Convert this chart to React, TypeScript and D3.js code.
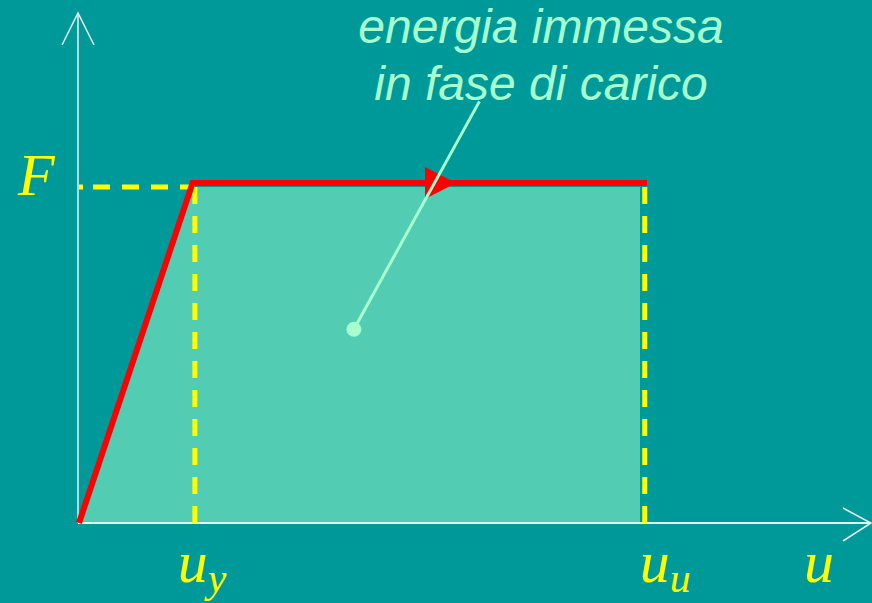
import React from "react";
import * as d3 from "d3";

const uPoints = [0, 20.0, 100];
const fPoints = [0, 1, 1];
const uMarks = [
  { key: "uy", value: 20.4, main: "u", sub: "y" },
  { key: "uu", value: 99.6, main: "u", sub: "u" },
];
const fMark = 1;
const labelLines = ["energia immessa", "in fase di carico"];
const pointer = { from: [48.4, 0.57], to: [70.5, 1.24] };

const W = 872;
const H = 603;
const labelDx: Record<string, number> = { uy: -17, uu: -5 };

export default function App() {
  const x = d3.scaleLinear().domain([0, 100]).range([79, 647]);
  const y = d3.scaleLinear().domain([0, 1]).range([523, 183]);

  const areaPts: [number, number][] = [
    [x(0), y(0)],
    [x(uPoints[1]), y(1) + 4],
    [x(uPoints[2]) - 7, y(1) + 4],
    [x(uPoints[2]) - 7, y(0)],
  ];
  const line = d3.line<number>().x((d, i) => x(uPoints[i])).y((d) => y(d));
  const redPath = line(fPoints) as string;
  const arrowX = 456;
  const arrowY = y(1);

  const yellow = "#FFFF00";
  const axisCol = "#E6F5F2";
  const textCol = "#A6FFCC";

  return (
    <div style={{ position: "fixed", left: 0, top: 0, width: W, height: H }}>
      <svg width={W} height={H} style={{ display: "block" }}>
        <rect width={W} height={H} fill="#009999" />
        <polygon points={areaPts.map((p) => p.join(",")).join(" ")} fill="#52CCB3" />
        {/* axes */}
        <line x1={x(0) - 1} y1={y(0)} x2={x(0) - 1} y2={13} stroke={axisCol} strokeWidth={1.5} />
        <polyline points={`62,45 ${x(0) - 1},13 94,45`} fill="none" stroke={axisCol} strokeWidth={1.5} />
        <line x1={x(0) - 1} y1={y(0)} x2={870} y2={y(0)} stroke={axisCol} strokeWidth={1.8} />
        <polyline points={`843,508 871,${y(0)} 843,541`} fill="none" stroke={axisCol} strokeWidth={1.5} />
        {/* dashed guides */}
        <line x1={x(0)} y1={y(fMark) + 4} x2={x(uMarks[0].value)} y2={y(fMark) + 4} stroke={yellow} strokeWidth={5} strokeDasharray="4 10 17 12 17 12 17 12 17 12 17 12" />
        {uMarks.map((m) => (
          <line key={m.key} x1={x(m.value)} y1={y(fMark) + 4} x2={x(m.value)} y2={y(0)} stroke={yellow} strokeWidth={5} strokeDasharray="17 12" />
        ))}
        {/* red curve */}
        <path d={redPath} fill="none" stroke="#FF0000" strokeWidth={6} strokeLinejoin="miter" />
        <polygon points={`${arrowX},${arrowY} ${arrowX - 31},${arrowY - 16} ${arrowX - 31},${arrowY + 16}`} fill="#FF0000" />
        {/* pointer */}
        <line x1={x(pointer.from[0])} y1={y(pointer.from[1])} x2={x(pointer.to[0])} y2={y(pointer.to[1])} stroke={textCol} strokeWidth={3} />
        <circle cx={x(pointer.from[0])} cy={y(pointer.from[1])} r={7.5} fill={textCol} />
        {labelLines.map((t, i) => (
          <text key={i} x={541} y={43 + i * 57} textAnchor="middle" fontFamily="Liberation Sans, Arial, sans-serif" fontStyle="italic" fontSize={48} fill={textCol}>
            {t}
          </text>
        ))}
        {/* labels */}
        <text x={18} y={195} fontFamily="Liberation Serif, Times New Roman, serif" fontStyle="italic" fontSize={60} fill={yellow}>F</text>
        {uMarks.map((m) => (
          <text key={m.key} x={x(m.value) + labelDx[m.key]} y={582} fontFamily="Liberation Serif, Times New Roman, serif" fontStyle="italic" fontSize={60} fill={yellow}>
            {m.main}
            <tspan fontSize={42} dy={10}>{m.sub}</tspan>
          </text>
        ))}
        <text x={804} y={582} fontFamily="Liberation Serif, Times New Roman, serif" fontStyle="italic" fontSize={60} fill={yellow}>u</text>
      </svg>
    </div>
  );
}
